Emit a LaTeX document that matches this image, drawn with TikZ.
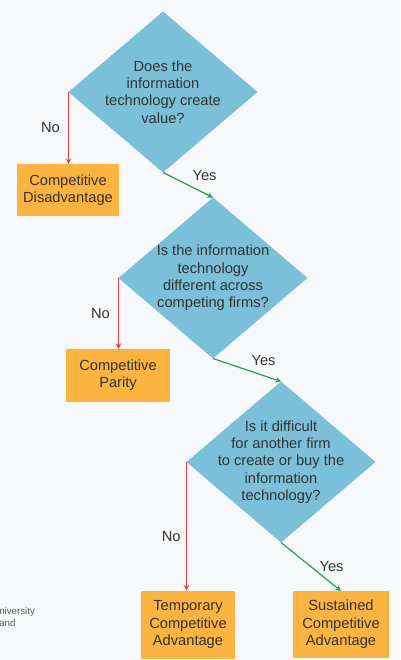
\documentclass[tikz,border=0pt]{standalone}
\usepackage{fontspec}
\setmainfont{Liberation Sans}
\usetikzlibrary{shapes.geometric}

\definecolor{qblue}{HTML}{7BBFD8}
\definecolor{rorange}{HTML}{FBB440}
\definecolor{ink}{HTML}{333333}
\definecolor{noline}{HTML}{E8403F}
\definecolor{yesline}{HTML}{22A04E}
\definecolor{paper}{HTML}{F6F8F9}

\begin{document}
\begin{tikzpicture}[x=0.75pt,y=-0.75pt,
    every node/.style={font=\fontsize{11}{13}\selectfont, text=ink},
    question/.style={diamond, fill=qblue, aspect=1.17, inner xsep=0pt, inner ysep=-16pt,
      outer sep=0pt, minimum width=141.75pt, minimum height=120.75pt, align=center},
    outcome/.style={rectangle, fill=rorange, align=center, inner sep=0pt, outer sep=0pt},
    noarrow/.style={draw=noline, line width=0.9pt, -stealth},
    yesarrow/.style={draw=yesline, line width=0.9pt, -stealth}]

            \useasboundingbox (0,0) rectangle (400,660);
            \fill[paper] (0,0) rectangle (400,660);

            \node[question] (value) at (163,92) {Does the\\information\\technology create\\value?};
            \node[outcome, minimum width=76.5pt, minimum height=39pt] (disadv) at (68,190) {Competitive\\Disadvantage};

            \node[question] (differ) at (213,278) {Is the information\\technology\\different across\\competing firms?};
            \node[outcome, minimum width=78pt, minimum height=39.75pt] (parity) at (118,375.5) {Competitive\\Parity};

            \node[question] (imitate) at (281,462) {Is it difficult\\for another firm\\to create or buy the\\information\\technology?};
            \node[outcome, minimum width=70.5pt, minimum height=51pt] (temporary) at (188,624.5) {Temporary\\Competitive\\Advantage};
            \node[outcome, minimum width=72pt, minimum height=50.25pt] (sustained) at (341,624.5) {Sustained\\Competitive\\Advantage};

            \draw[noarrow] (value.west) -- node[left, inner sep=6pt] {No} (value.west |- disadv.north);
            \draw[yesarrow] (value.south) -- node[above right, inner sep=3pt] {Yes} (differ.north);
            \draw[noarrow] (differ.west) -- node[left, inner sep=6pt] {No} (differ.west |- parity.north);
            \draw[yesarrow] (differ.south) -- node[above right, inner sep=3pt] {Yes} (imitate.north);
            \draw[noarrow] (imitate.west) -- node[pos=.58, left, inner sep=4pt] {No} (imitate.west |- temporary.north);
            \draw[yesarrow] (imitate.south) -- node[right, inner sep=6pt] {Yes} (sustained.north);

            \node[anchor=west, align=left, inner sep=0pt, font=\fontsize{7.3}{9}\selectfont, text=ink!80] (credit) at (-1,617) {niversity\\and};

          \end{tikzpicture}
\end{document}
